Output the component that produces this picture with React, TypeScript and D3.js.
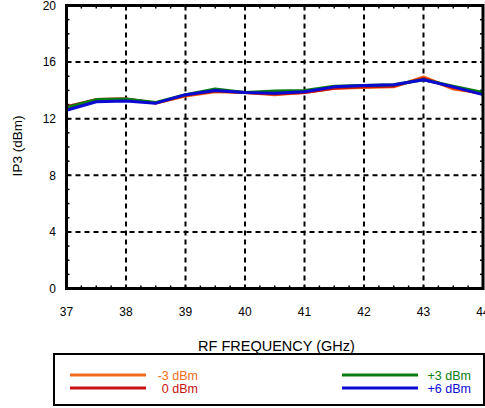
import React from "react";
import * as d3 from "d3";

const freqs = [37, 37.5, 38, 38.5, 39, 39.5, 40, 40.5, 41, 41.5, 42, 42.5, 43, 43.5, 44];
const ip3M3 = [12.8, 13.35, 13.4, 13.1, 13.6, 13.9, 13.85, 13.7, 13.85, 14.15, 14.2, 14.25, 14.95, 14.1, 13.8];
const ip3P0 = [12.85, 13.35, 13.4, 13.1, 13.65, 13.95, 13.85, 13.75, 13.85, 14.15, 14.25, 14.3, 14.85, 14.2, 13.75];
const ip3P3 = [12.8, 13.35, 13.4, 13.15, 13.7, 14.1, 13.85, 13.95, 14.0, 14.3, 14.35, 14.4, 14.75, 14.3, 13.85];
const ip3P6 = [12.6, 13.2, 13.25, 13.1, 13.7, 14.0, 13.85, 13.8, 13.9, 14.25, 14.35, 14.4, 14.75, 14.25, 13.7];

const seriesNames = ["-3 dBm", "0 dBm", "+3 dBm", "+6 dBm"];
const seriesColors = ["#f26a1b", "#c8120e", "#0a7d12", "#0a0ad2"];
const seriesData = [ip3M3, ip3P0, ip3P3, ip3P6];

const xTicks = [37, 38, 39, 40, 41, 42, 43, 44];
const yTicks = [0, 4, 8, 12, 16, 20];

const FONT = "'Liberation Sans', Arial, Helvetica, sans-serif";

export default function App() {
  const left = 66.5, right = 483, top = 5.5, bottom = 288.5;
  const x = d3.scaleLinear().domain([37, 44]).range([left, right]);
  const y = d3.scaleLinear().domain([0, 20]).range([bottom, top]);
  const line = d3.line<number>().x((_, i) => x(freqs[i])).y((v) => y(v));
  const xMinor = d3.range(37, 44.001, 0.25);
  const yMinor = d3.range(0, 20.001, 1);

  return (
    <svg width={485} height={408} style={{ position: "absolute", left: 0, top: 0, background: "#fff" }} fontFamily={FONT}>
      {/* grid */}
      {xTicks.slice(1, -1).map((t) => (
        <line key={"gx" + t} x1={x(t)} x2={x(t)} y1={top} y2={bottom} stroke="#000" strokeWidth={2} strokeDasharray="5,4" />
      ))}
      {yTicks.slice(1, -1).map((t) => (
        <line key={"gy" + t} x1={left} x2={right} y1={y(t)} y2={y(t)} stroke="#000" strokeWidth={2} strokeDasharray="5,4" />
      ))}
      {/* minor ticks */}
      {xMinor.map((t, i) => (
        <g key={"mx" + i}>
          <line x1={x(t)} x2={x(t)} y1={bottom} y2={bottom - 3} stroke="#000" strokeWidth={1.5} />
          <line x1={x(t)} x2={x(t)} y1={top} y2={top + 3} stroke="#000" strokeWidth={1.5} />
        </g>
      ))}
      {yMinor.map((t, i) => (
        <g key={"my" + i}>
          <line x1={left} x2={left + 3} y1={y(t)} y2={y(t)} stroke="#000" strokeWidth={1.5} />
          <line x1={right} x2={right - 3} y1={y(t)} y2={y(t)} stroke="#000" strokeWidth={1.5} />
        </g>
      ))}
      {/* series */}
      {seriesData.map((d, i) => (
        <path key={"s" + i} d={line(d) || ""} fill="none" stroke={seriesColors[i]} strokeWidth={3} strokeLinejoin="round" />
      ))}
      {/* frame */}
      <rect x={left} y={top} width={right - left} height={bottom - top} fill="none" stroke="#000" strokeWidth={3} />
      {/* tick labels */}
      {xTicks.map((t) => (
        <text key={"xl" + t} x={x(t)} y={316} textAnchor="middle" fontSize={12}>{t}</text>
      ))}
      {yTicks.map((t) => (
        <text key={"yl" + t} x={56} y={y(t) + 4.3} textAnchor="end" fontSize={12}>{t}</text>
      ))}
      <text x={276.5} y={351} textAnchor="middle" fontSize={14.5}>RF FREQUENCY (GHz)</text>
      <text transform={`translate(22,${(top + bottom) / 2 - 1}) rotate(-90)`} textAnchor="middle" fontSize={13.5}>IP3 (dBm)</text>
      {/* legend */}
      <rect x={54} y={354} width={430} height={51} fill="#fff" stroke="#000" strokeWidth={2} />
      {seriesNames.map((n, i) => {
        const col = i < 2 ? 0 : 1;
        const row = i % 2;
        const lx = col === 0 ? 70 : 342;
        const tx = col === 0 ? 198 : 471;
        const ly = 375 + row * 13;
        return (
          <g key={"lg" + i}>
            <line x1={lx} x2={lx + 76} y1={ly} y2={ly} stroke={seriesColors[i]} strokeWidth={3} />
            <text x={tx} y={ly + 4.5} textAnchor="end" fontSize={12.5} fill={seriesColors[i]}>{n}</text>
          </g>
        );
      })}
    </svg>
  );
}
